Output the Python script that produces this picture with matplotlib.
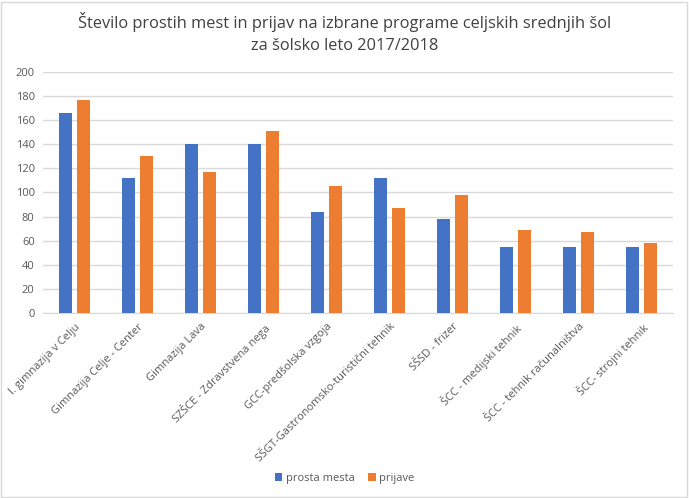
import matplotlib
matplotlib.use("Agg")
import matplotlib.pyplot as plt
from matplotlib.patches import Rectangle
import numpy as np

plt.rcParams['font.family'] = ['Open Sans', 'DejaVu Sans']

categories = ["I. gimnazija v Celju", "Gimnazija Celje - Center", "Gimnazija Lava",
              "SZŠCE - Zdravstvena nega", "GCC-predšolska vzgoja",
              "SŠGT-Gastronomsko-turistični tehnik", "SŠSD - frizer",
              "ŠCC - medijski tehnik", "ŠCC - tehnik računalništva", "ŠCC- strojni tehnik"]
prosta_mesta = [166, 112, 140, 140, 84, 112, 78, 55, 55, 55]
prijave = [177, 130, 117, 151, 105, 87, 98, 69, 67, 58]
yticks = list(range(0, 201, 20))

fig = plt.figure(figsize=(6.89, 4.98), dpi=100)
ax = fig.add_axes([0.0624, 0.3715, 0.9144, 0.484])

x = np.arange(len(categories))
w = 0.22
gap = 0.065
ax.bar(x - (w + gap) / 2, prosta_mesta, w, color="#4472C4", label="prosta mesta", zorder=3)
ax.bar(x + (w + gap) / 2, prijave, w, color="#ED7D31", label="prijave", zorder=3)

ax.set_xlim(-0.5, len(categories) - 0.5)
ax.set_ylim(0, 200)
ax.set_yticks(yticks)
ax.set_yticklabels([str(v) for v in yticks], fontsize=8, color="#595959")
ax.yaxis.grid(True, color="#d9d9d9", linewidth=1, zorder=0)
ax.set_xticks(x)
ax.set_xticklabels(categories, rotation=45, ha="right", rotation_mode="anchor",
                   fontsize=8, color="#595959")
ax.tick_params(axis="both", length=0, pad=6)
for s in ["top", "right", "left"]:
    ax.spines[s].set_visible(False)
ax.spines["bottom"].set_color("#d9d9d9")

fig.text(0.5, 0.955, "Število prostih mest in prijav na izbrane programe celjskih srednjih šol",
         ha="center", va="center", fontsize=11.8, color="#404040")
fig.text(0.5, 0.908, "za šolsko leto 2017/2018", ha="center", va="center",
         fontsize=11.8, color="#404040")

leg = fig.legend(loc="center", bbox_to_anchor=(0.5, 0.04), ncol=2, frameon=False,
                 fontsize=8, handlelength=0.7, handleheight=0.7, columnspacing=1.2,
                 handletextpad=0.3)
for t in leg.get_texts():
    t.set_color("#595959")

fig.patches.append(Rectangle((0.002, 0.003), 0.995, 0.993, transform=fig.transFigure,
                             fill=False, edgecolor="#d9d9d9", linewidth=1))

fig.savefig("out.png", dpi=100)
